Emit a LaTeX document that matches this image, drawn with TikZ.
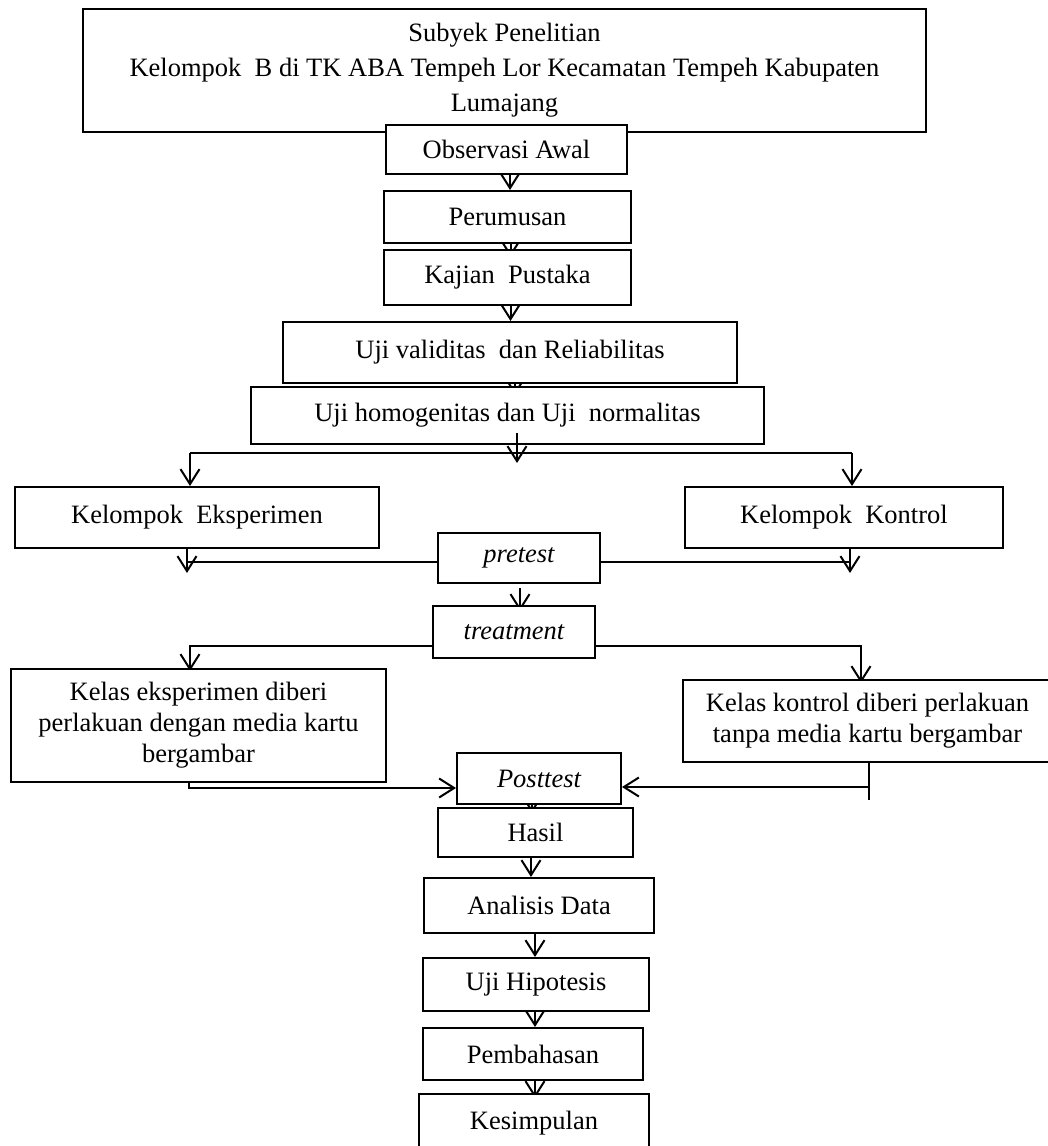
\documentclass[tikz,border=0pt]{standalone}
\usepackage{fontspec}
\setmainfont{Liberation Serif}
\usetikzlibrary{arrows.meta,backgrounds}
\begin{document}
\begin{tikzpicture}[x=1pt,y=-1pt,
  box/.style={draw,line width=2pt,fill=white,inner sep=0pt,align=center,font=\fontsize{26.5}{31}\selectfont},
  itbox/.style={box,font=\fontsize{26.5}{31}\selectfont\itshape},
  arr/.style={line width=2pt,-{Straight Barb[length=15pt,width=19pt]}},
  ln/.style={line width=2pt}]
\useasboundingbox (0,0) rectangle (1048,1146);
% nodes
\node[box,minimum width=843pt,minimum height=123pt,font=\fontsize{26.5}{35}\selectfont] (top) at (504.5,70.5) {Subyek Penelitian\\Kelompok\ \ B di TK ABA Tempeh Lor Kecamatan Tempeh Kabupaten\\Lumajang};
\node[box,minimum width=241pt,minimum height=49pt] (obs) at (506.5,149.5) {Observasi Awal};
\node[box,minimum width=247pt,minimum height=52pt] (per) at (507.5,217) {Perumusan};
\node[box,minimum width=247pt,minimum height=55pt] (kaj) at (507.5,277.5) {Kajian\ \ Pustaka};
\node[box,minimum width=454pt,minimum height=61pt] (val) at (510,352.5) {Uji validitas\ \ dan Reliabilitas};
\node[box,minimum width=513pt,minimum height=57pt] (hom) at (507.5,415.5) {Uji homogenitas dan Uji\ \ normalitas};
\node[box,minimum width=364pt,minimum height=61pt] (ke) at (197,517.5) {Kelompok\ \ Eksperimen};
\node[box,minimum width=318pt,minimum height=61pt] (kk) at (844,517.5) {Kelompok\ \ Kontrol};
\node[itbox,minimum width=162pt,minimum height=50pt] (pre) at (519,558) {pretest};
\node[itbox,minimum width=162pt,minimum height=52pt] (tre) at (514,632) {treatment};
\node[box,minimum width=375pt,minimum height=113pt] (kele) at (198.5,725.5) {Kelas eksperimen diberi\\perlakuan dengan media kartu\\bergambar};
\node[box,minimum width=369pt,minimum height=82pt] (kelk) at (867.5,721) {Kelas kontrol diberi perlakuan\\tanpa media kartu bergambar};
\node[itbox,minimum width=164pt,minimum height=51pt] (pos) at (539,778.5) {Posttest};
\node[box,minimum width=195pt,minimum height=49pt] (has) at (535.5,832.5) {Hasil};
\node[box,minimum width=230pt,minimum height=55pt] (ana) at (539,905.5) {Analisis Data};
\node[box,minimum width=226pt,minimum height=53pt] (hip) at (536,984.5) {Uji Hipotesis};
\node[box,minimum width=220pt,minimum height=52pt] (pem) at (533,1054) {Pembahasan};
\node[box,minimum width=230pt,minimum height=58pt] (kes) at (534,1123) {Kesimpulan};
% free ends
\coordinate (hs) at (517,433);
\coordinate (he) at (517,463);
\coordinate (sl) at (190,453);
\coordinate (sr) at (852,453);
\coordinate (pl) at (187,573);
\coordinate (pr) at (850,573);
\coordinate (tl) at (190,646);
\coordinate (tr) at (861,646);
\coordinate (ql) at (189,788);
\coordinate (qr) at (869,787);
\coordinate (qe) at (869,800);
% connectors partly hidden behind boxes
\begin{scope}[on background layer]
\draw[arr] ([xshift=3.5pt]obs.south) -- ([xshift=3.5pt]obs.south |- per.north);
\draw[arr] ([xshift=3pt]per.south) -- ([xshift=3pt,yshift=-8pt]per.south |- kaj.north);
\draw[arr] ([xshift=3pt]kaj.south) -- ([xshift=3pt]kaj.south |- val.north);
\draw[arr] ([xshift=5pt]val.south) -- ([xshift=5pt,yshift=-9pt]val.south |- hom.north);
\draw[arr] ([xshift=1pt,yshift=-4pt]pre.south) -- ([xshift=1pt,yshift=-6pt]pre.south |- tre.north);
\draw[arr] ([yshift=-14pt]tre.west) -- (tl) -- ([yshift=-3pt]tl |- kele.north);
\draw[arr] ([yshift=-14pt]tre.east) -- (tr) -- ([yshift=-4pt]tr |- kelk.north);
\draw[arr] ([xshift=-7pt]pos.south) -- ([xshift=-7pt,yshift=-6pt]pos.south |- has.north);
\draw[arr] ([xshift=-4.5pt]has.south) -- ([xshift=-4.5pt]has.south |- ana.north);
\draw[arr] ([xshift=-4pt]ana.south) -- ([xshift=-4pt]ana.south |- hip.north);
\draw[arr] ([xshift=-1pt]hip.south) -- ([xshift=-1pt]hip.south |- pem.north);
\draw[arr] ([xshift=2pt]pem.south) -- ([xshift=2pt,yshift=-5pt]pem.south |- kes.north);
\end{scope}
% connectors on top
\draw[arr] (hs) -- (he);
\draw[ln] (sl) -- (sr);
\draw[arr] (sl) -- (sl |- ke.north);
\draw[arr] (sr) -- (sr |- kk.north);
\draw[arr] (pl |- ke.south) -- (pl);
\draw[ln] ([yshift=-4pt]pre.west) -- ([yshift=-4pt]pre.west -| pl);
\draw[arr] (pr |- kk.south) -- (pr);
\draw[ln] ([yshift=-4pt]pre.east) -- ([yshift=-4pt]pre.east -| pr);
\draw[arr] (ql |- kele.south) -- (ql) -- (ql -| pos.west);
\draw[ln] (qr |- kelk.south) -- (qe);
\draw[arr] (qr) -- (qr -| pos.east);
\end{tikzpicture}
\end{document}
